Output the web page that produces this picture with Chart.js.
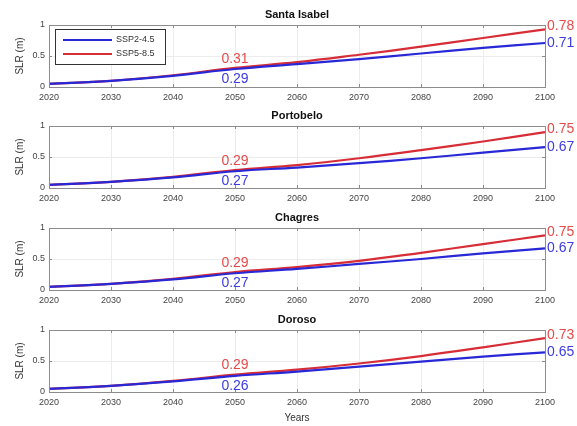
<!DOCTYPE html>
<html>
<head>
<meta charset="utf-8">
<script src="https://cdn.jsdelivr.net/npm/chart.js@4.4.1/dist/chart.umd.min.js"></script>
<style>
  body { margin: 0; background: #fff; }
  #wrap { position: relative; width: 577px; height: 426px; background: #fff; overflow: hidden; }
  #wrap canvas { position: absolute; left: 0; }
</style>
</head>
<body>
<div id="wrap"></div>
<script>
const years = ['2020', '2030', '2040', '2050', '2060', '2070', '2080', '2090', '2100'];
const sites = ['Santa Isabel', 'Portobelo', 'Chagres', 'Doroso'];
const seriesNames = ['SSP2-4.5', 'SSP5-8.5'];

const santaIsabel245 = [0.05, 0.10, 0.18, 0.29, 0.37, 0.45, 0.54, 0.63, 0.71];
const santaIsabel585 = [0.05, 0.10, 0.19, 0.31, 0.40, 0.52, 0.65, 0.79, 0.93];
const portobelo245 = [0.05, 0.10, 0.17, 0.27, 0.33, 0.40, 0.48, 0.57, 0.66];
const portobelo585 = [0.05, 0.10, 0.18, 0.29, 0.37, 0.48, 0.61, 0.75, 0.90];
const chagres245 = [0.05, 0.10, 0.17, 0.27, 0.34, 0.42, 0.50, 0.59, 0.67];
const chagres585 = [0.05, 0.10, 0.18, 0.29, 0.37, 0.47, 0.60, 0.74, 0.88];
const doroso245 = [0.05, 0.10, 0.17, 0.26, 0.33, 0.41, 0.49, 0.57, 0.64];
const doroso585 = [0.05, 0.10, 0.18, 0.28, 0.36, 0.46, 0.58, 0.72, 0.87];

// annotation texts at 2050 and 2100
const label2050ssp245 = ['0.29', '0.27', '0.27', '0.26'];
const label2050ssp585 = ['0.31', '0.29', '0.29', '0.29'];
const label2100ssp245 = ['0.71', '0.67', '0.67', '0.65'];
const label2100ssp585 = ['0.78', '0.75', '0.75', '0.73'];

const ssp245 = [santaIsabel245, portobelo245, chagres245, doroso245];
const ssp585 = [santaIsabel585, portobelo585, chagres585, doroso585];

const blue = 'rgb(40,40,215)';
const red = 'rgb(215,45,55)';
const blueText = 'rgb(60,60,225)';
const redText = 'rgb(230,75,75)';
const tops = [1, 102, 204, 306];
const font = 'Liberation Sans, Arial, sans-serif';

function overlay(i) {
  return {
    id: 'overlay' + i,
    afterDraw(chart) {
      const ctx = chart.ctx;
      const a = chart.chartArea;
      const xs = chart.scales.x, ys = chart.scales.y;
      ctx.save();

      // axes box + inner ticks
      ctx.strokeStyle = '#8c8c8c';
      ctx.lineWidth = 1;
      ctx.strokeRect(a.left + 0.5, a.top + 0.5, a.right - a.left, a.bottom - a.top);
      ctx.beginPath();
      years.forEach((y, k) => {
        const px = Math.round(xs.getPixelForValue(k)) + 0.5;
        ctx.moveTo(px, a.bottom); ctx.lineTo(px, a.bottom - 3);
        ctx.moveTo(px, a.top); ctx.lineTo(px, a.top + 3);
      });
      [0, 0.5, 1].forEach(v => {
        const py = Math.round(ys.getPixelForValue(v)) + 0.5;
        ctx.moveTo(a.left, py); ctx.lineTo(a.left + 3, py);
        ctx.moveTo(a.right, py); ctx.lineTo(a.right - 3, py);
      });
      ctx.stroke();

      // title
      ctx.fillStyle = '#111';
      ctx.font = 'bold 11px ' + font;
      ctx.textAlign = 'center';
      ctx.textBaseline = 'middle';
      ctx.fillText(sites[i], (a.left + a.right) / 2, a.top - 10);

      // y label
      ctx.save();
      ctx.translate(20, (a.top + a.bottom) / 2);
      ctx.rotate(-Math.PI / 2);
      ctx.font = '10px ' + font;
      ctx.fillStyle = '#333';
      ctx.fillText('SLR (m)', 0, 0);
      ctx.restore();

      // annotations
      const b = ssp245[i], r = ssp585[i];
      const i50 = years.indexOf('2050'), iEnd = years.length - 1;
      const x50 = xs.getPixelForValue(i50), xEnd = xs.getPixelForValue(iEnd);
      ctx.font = '14px ' + font;
      ctx.fillStyle = redText;
      ctx.fillText(label2050ssp585[i], x50, ys.getPixelForValue(r[i50]) - 9);
      ctx.fillStyle = blueText;
      ctx.fillText(label2050ssp245[i], x50, ys.getPixelForValue(b[i50]) + 10);
      ctx.textAlign = 'left';
      ctx.fillStyle = redText;
      ctx.fillText(label2100ssp585[i], xEnd + 2, ys.getPixelForValue(r[iEnd]) - 3);
      ctx.fillStyle = blueText;
      ctx.fillText(label2100ssp245[i], xEnd + 2, ys.getPixelForValue(b[iEnd]));

      // legend (first panel only)
      if (i === 0) {
        const lx = 55, ly = 28;
        ctx.fillStyle = '#fff';
        ctx.fillRect(lx, ly, 110, 35);
        ctx.strokeStyle = '#333';
        ctx.lineWidth = 1;
        ctx.strokeRect(lx + 0.5, ly + 0.5, 110, 35);
        [blue, red].forEach((col, k) => {
          const yy = ly + 11 + k * 14;
          ctx.strokeStyle = col;
          ctx.lineWidth = 2;
          ctx.beginPath();
          ctx.moveTo(lx + 8, yy); ctx.lineTo(lx + 57, yy);
          ctx.stroke();
          ctx.fillStyle = '#333';
          ctx.font = '9px ' + font;
          ctx.textAlign = 'left';
          ctx.fillText(seriesNames[k], lx + 61, yy);
        });
      }

      // x label under last panel
      if (i === sites.length - 1) {
        ctx.fillStyle = '#333';
        ctx.font = '10px ' + font;
        ctx.textAlign = 'center';
        ctx.fillText('Years', (a.left + a.right) / 2, a.bottom + 26);
      }
      ctx.restore();
    }
  };
}

const wrap = document.getElementById('wrap');
sites.forEach((site, i) => {
  const c = document.createElement('canvas');
  const h = i === sites.length - 1 ? 120 : 102;
  c.width = 577; c.height = h;
  c.style.top = tops[i] + 'px';
  wrap.appendChild(c);

  new Chart(c, {
    type: 'line',
    data: {
      labels: years,
      datasets: [
        { label: seriesNames[0], data: ssp245[i], borderColor: blue, borderWidth: 2.2, pointRadius: 0, tension: 0.4 },
        { label: seriesNames[1], data: ssp585[i], borderColor: red, borderWidth: 2.2, pointRadius: 0, tension: 0.4 }
      ]
    },
    options: {
      responsive: false,
      animation: false,
      layout: { padding: { top: 24, right: 32, left: 0, bottom: 0 } },
      plugins: { legend: { display: false }, tooltip: { enabled: false }, title: { display: false } },
      scales: {
        x: {
          grid: { color: '#ececec', drawTicks: false },
          border: { display: false },
          ticks: { font: { size: 9, family: font }, color: '#444', padding: 5, maxRotation: 0, autoSkip: false },
          afterFit: s => { s.height = h - 86; }
        },
        y: {
          min: 0, max: 1,
          grid: { color: '#ececec', drawTicks: false },
          border: { display: false },
          ticks: { stepSize: 0.5, font: { size: 9, family: font }, color: '#444', padding: 4, callback: v => String(v) },
          afterFit: s => { s.width = 49; }
        }
      }
    },
    plugins: [overlay(i)]
  });
});
</script>
</body>
</html>
